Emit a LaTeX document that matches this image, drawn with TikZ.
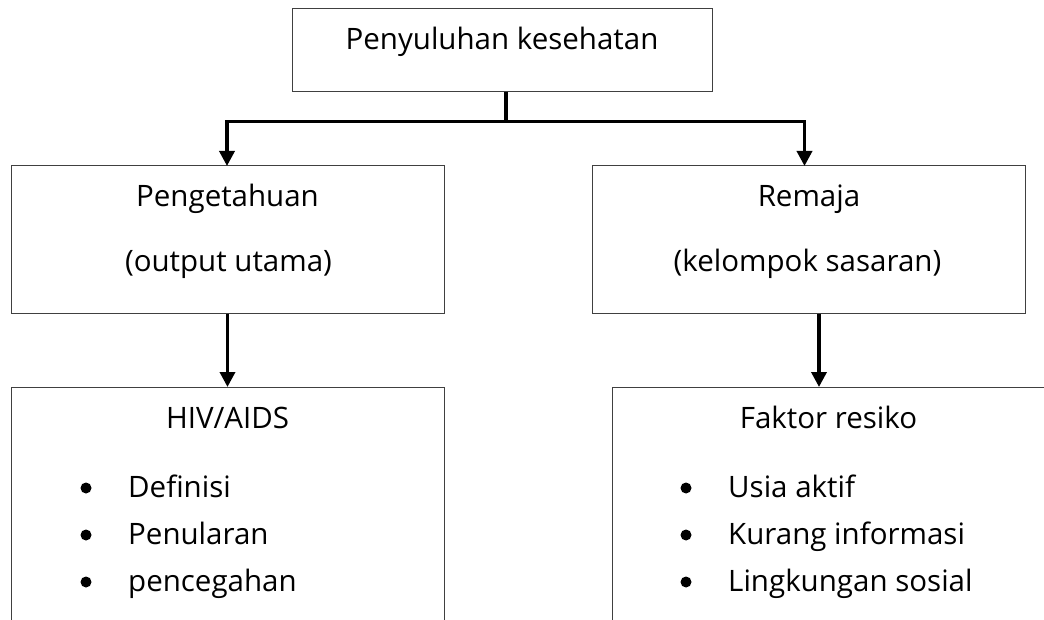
\documentclass[tikz,border=0pt]{standalone}
\usepackage{fontspec}
\setmainfont{Open Sans}
\usetikzlibrary{arrows.meta}
\begin{document}
\begin{tikzpicture}[x=1pt,y=-1pt,
  box/.style={draw=black!75,line width=1pt,inner sep=0pt,outer sep=0pt},
  lbl/.style={anchor=base,inner sep=0pt,font=\fontsize{29.5}{35}\selectfont},
  item/.style={anchor=base west,inner sep=0pt,font=\fontsize{29.5}{35}\selectfont},
  bul/.style={circle,fill=black,minimum size=11pt,inner sep=0pt},
  conn/.style={line width=3.5pt,-{Triangle[length=15pt,width=15pt]}}]
\useasboundingbox (0,0) rectangle (1044,620);
\clip (0,0) rectangle (1044,620);
% boxes
\node[box,minimum width=420pt,minimum height=83pt] (top) at (502,50.5) {};
\node[box,minimum width=433pt,minimum height=148pt] (ml) at (227.5,240) {};
\node[box,minimum width=433pt,minimum height=148pt] (mr) at (808.5,240) {};
\node[box,minimum width=433pt,minimum height=273pt] (bl) at (227.5,523.5) {};
\node[box,minimum width=468pt,minimum height=273pt] (br) at (846,523.5) {};
% connectors
\draw[conn] ([xshift=4pt]top.south) -- ++(0,29.5) -| ([xshift=-0.5pt]ml.north);
\draw[conn] ([xshift=4pt]top.south) -- ++(0,29.5) -| ([xshift=-4pt]mr.north);
\draw[conn] (ml.south) -- (bl.north);
\draw[conn] ([xshift=10.5pt]mr.south) -- ([xshift=10.5pt]mr.south |- br.north);
% texts
\node[lbl] (t0) at (502,50) {Penyuluhan kesehatan};
\node[lbl] (t1) at (227.5,207) {Pengetahuan};
\node[lbl] (t2) at (228.5,272) {(output utama)};
\node[lbl] (t3) at (809,207) {Remaja};
\node[lbl] (t4) at (807.5,272) {(kelompok sasaran)};
\node[lbl] (t5) at (227.5,428) {HIV/AIDS};
\node[lbl] (t6) at (828.5,428) {Faktor resiko};
% left list
\node[bul] (b1) at (86,488) {};
\node[bul] (b2) at (86,535) {};
\node[bul] (b3) at (86,582) {};
\node[item] (i1) at (128,497) {Definisi};
\node[item] (i2) at (128,544) {Penularan};
\node[item] (i3) at (128,591) {pencegahan};
% right list
\node[bul] (b4) at (686,488) {};
\node[bul] (b5) at (686,535) {};
\node[bul] (b6) at (686,582) {};
\node[item] (i4) at (728,497) {Usia aktif};
\node[item] (i5) at (728,544) {Kurang informasi};
\node[item] (i6) at (728,591) {Lingkungan sosial};
\end{tikzpicture}
\end{document}
